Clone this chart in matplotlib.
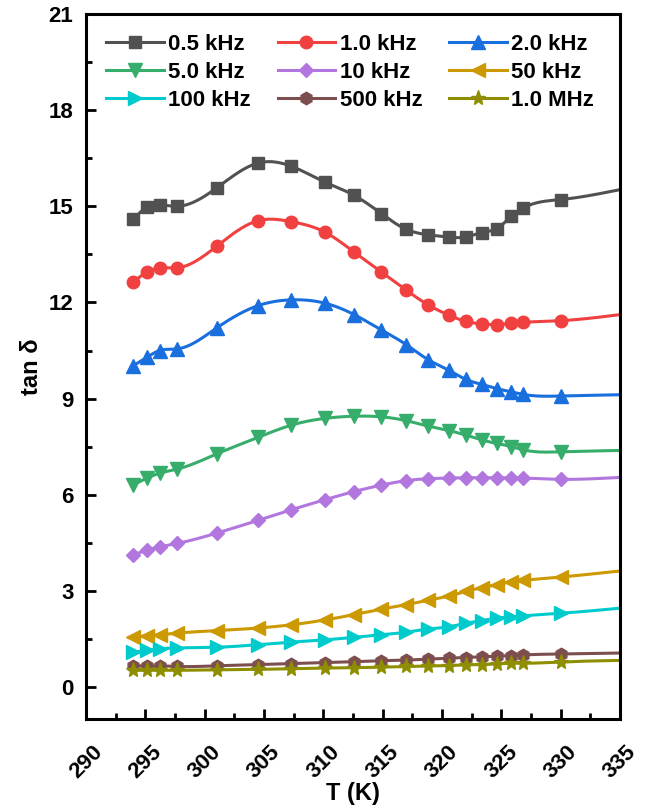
import numpy as np
import matplotlib.pyplot as plt
from matplotlib.lines import Line2D

plt.rcParams['font.family'] = ['Liberation Sans', 'DejaVu Sans']
plt.rcParams['font.weight'] = 'bold'

# measured temperatures (K)
T = [294.0, 295.15, 296.2, 297.7, 301.0, 304.5, 307.3, 310.1, 312.6, 314.9,
     317.0, 318.85, 320.6, 322.0, 323.35, 324.6, 325.85, 326.85, 330.0]
T_edge = 335.0  # fitted curves run on to the axis edge

labels = ['0.5 kHz', '1.0 kHz', '2.0 kHz', '5.0 kHz', '10 kHz', '50 kHz',
          '100 kHz', '500 kHz', '1.0 MHz']

tan_05k = [14.59, 14.98, 15.05, 15.0, 15.57, 16.35, 16.25, 15.76, 15.34, 14.77,
           14.28, 14.11, 14.04, 14.04, 14.18, 14.3, 14.69, 14.95, 15.21]
tan_1k = [12.64, 12.95, 13.08, 13.08, 13.75, 14.55, 14.52, 14.2, 13.57, 12.95,
          12.38, 11.92, 11.6, 11.41, 11.33, 11.31, 11.35, 11.38, 11.43]
tan_2k = [10.03, 10.29, 10.5, 10.55, 11.2, 11.9, 12.08, 11.98, 11.62, 11.14,
          10.68, 10.21, 9.88, 9.6, 9.44, 9.31, 9.21, 9.13, 9.08]
tan_5k = [6.31, 6.52, 6.67, 6.8, 7.27, 7.79, 8.17, 8.38, 8.45, 8.43,
          8.31, 8.14, 8.0, 7.86, 7.71, 7.6, 7.5, 7.4, 7.34]
tan_10k = [4.13, 4.27, 4.37, 4.48, 4.8, 5.2, 5.53, 5.84, 6.1, 6.3,
           6.44, 6.5, 6.52, 6.53, 6.53, 6.53, 6.53, 6.52, 6.48]
tan_50k = [1.55, 1.6, 1.63, 1.68, 1.76, 1.84, 1.94, 2.09, 2.26, 2.43,
           2.57, 2.71, 2.84, 2.98, 3.1, 3.19, 3.29, 3.33, 3.43]
tan_100k = [1.09, 1.14, 1.19, 1.22, 1.24, 1.32, 1.4, 1.47, 1.55, 1.63,
            1.71, 1.81, 1.88, 1.99, 2.07, 2.15, 2.19, 2.22, 2.3]
tan_500k = [0.66, 0.66, 0.66, 0.64, 0.66, 0.7, 0.73, 0.76, 0.79, 0.82,
            0.84, 0.87, 0.9, 0.92, 0.94, 0.96, 0.98, 1.0, 1.03]
tan_1M = [0.52, 0.52, 0.52, 0.52, 0.54, 0.55, 0.57, 0.59, 0.6, 0.62,
          0.64, 0.66, 0.67, 0.69, 0.7, 0.72, 0.74, 0.74, 0.78]
tan_edge = [15.52, 11.62, 9.12, 7.38, 6.54, 3.62, 2.46, 1.06, 0.83]

series = [tan_05k, tan_1k, tan_2k, tan_5k, tan_10k, tan_50k, tan_100k, tan_500k, tan_1M]
colors = ['#515151', '#F14040', '#1A6FDF', '#37AD6B', '#B177DE', '#CC9900',
          '#00CBCC', '#7D4E4E', '#8E8E00']
markers = ['s', 'o', '^', 'v', 'D', '<', '>', 'h', '*']
msizes = [8.5, 9, 9.5, 9.5, 7.5, 9.5, 9.5, 9, 11]


def natural_spline(x, y, num=500):
    x = np.asarray(x, float)
    y = np.asarray(y, float)
    h = np.diff(x)
    n = len(x)
    A = np.zeros((n, n))
    r = np.zeros(n)
    A[0, 0] = A[-1, -1] = 1
    for i in range(1, n - 1):
        A[i, i - 1] = h[i - 1]
        A[i, i] = 2 * (h[i - 1] + h[i])
        A[i, i + 1] = h[i]
        r[i] = 3 * ((y[i + 1] - y[i]) / h[i] - (y[i] - y[i - 1]) / h[i - 1])
    c = np.linalg.solve(A, r)
    b = (y[1:] - y[:-1]) / h - h * (2 * c[:-1] + c[1:]) / 3
    d = (c[1:] - c[:-1]) / (3 * h)
    xs = np.linspace(x[0], x[-1], num)
    k = np.clip(np.searchsorted(x, xs) - 1, 0, n - 2)
    dx = xs - x[k]
    return xs, y[k] + b[k] * dx + c[k] * dx ** 2 + d[k] * dx ** 3


fig = plt.figure(figsize=(6.48, 8.1), dpi=100)
ax = fig.add_axes([0.1327, 0.1123, 0.8241, 0.8704])

handles = []
for vals, end, col, mk, ms, lab in zip(series, tan_edge, colors, markers, msizes, labels):
    xs, ys = natural_spline(T + [T_edge], vals + [end])
    ax.plot(xs, ys, color=col, lw=2.2, zorder=2)
    ax.plot(T, vals, ls='none', marker=mk, ms=ms, color=col, mec=col, zorder=3)
    handles.append(Line2D([], [], color=col, lw=2.2, marker=mk, ms=ms, mec=col, label=lab))

ax.set_xlim(290, 335)
ax.set_ylim(-1.0, 21)
ax.set_xticks(np.arange(290, 336, 5))
ax.set_xticks(np.arange(292.5, 335, 5), minor=True)
ax.set_yticks(np.arange(0, 22, 3))
ax.set_yticks(np.arange(1.5, 21, 3), minor=True)

for s in ax.spines.values():
    s.set_linewidth(2.2)
ax.tick_params(which='both', direction='in', width=2, top=False, right=False)
ax.tick_params(which='major', length=7)
ax.tick_params(which='minor', length=4)
ax.tick_params(axis='y', labelsize=16, pad=9)
ax.tick_params(axis='x', labelsize=16, pad=16, labelrotation=45)
for lbl in ax.get_xticklabels():
    lbl.set_fontweight('bold')
for lbl in ax.get_yticklabels():
    lbl.set_fontweight('bold')

ax.set_xlabel('T (K)', fontsize=17, fontweight='bold', labelpad=0)
ax.set_ylabel('tan \u03b4', fontsize=17, fontweight='bold', labelpad=4)

# legend reads row by row: 0.5, 1.0, 2.0 kHz on the first line
order = [h for c in range(3) for h in handles[c::3]]
ax.legend(handles=order, ncol=3, frameon=False, loc='upper left',
          bbox_to_anchor=(0.0, 1.0), handlelength=2.6,
          handletextpad=0.2, columnspacing=1.2, labelspacing=0.32,
          prop={'weight': 'bold', 'size': 16})

fig.savefig('out.png', dpi=100)
